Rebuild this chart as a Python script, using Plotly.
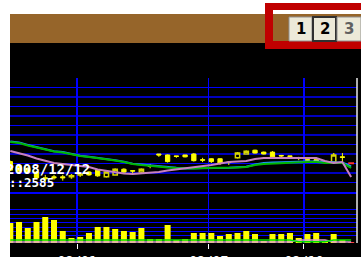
import plotly.graph_objects as go

# ---------------- data ----------------
bars = list(range(40))
tick_pos = [7.65, 22.7, 33.6]
tick_labels = ["09/01", "09/07", "09/10"]

open_ = [2582, 2578, 2575, 2571, 2565, 2566, 2566, 2566, 2568, 2571,
         2573, 2566, 2568, 2574, 2572.5, 2571, 2577.5, 2590, 2589, 2588,
         2589, 2590, 2584, 2585, 2585, 2581.5, 2586, 2590, 2594, 2592,
         2592, 2588.5, 2588, 2586, 2584, 2584, 2581.5, 2581.5, 2587, 2580.5]
high = [2583, 2579, 2576, 2572, 2568, 2568, 2568, 2569, 2570, 2572,
        2574, 2572, 2575, 2575, 2573, 2575, 2579.5, 2590, 2589.5, 2588,
        2589, 2591, 2586, 2585.5, 2585.5, 2582, 2592, 2594, 2594.5, 2592.5,
        2593, 2589, 2588, 2587, 2584, 2584, 2582.5, 2591, 2591, 2581]
low = [2572, 2571, 2570, 2564, 2560, 2563, 2562, 2564, 2566, 2567,
       2566, 2565, 2567, 2570, 2570, 2570, 2575, 2587, 2581, 2586,
       2586.5, 2582, 2581.5, 2580.5, 2578.5, 2578.5, 2585, 2589.5, 2590.5, 2589.5,
       2586.5, 2586, 2586, 2583.5, 2582, 2581, 2580, 2579.5, 2580.5, 2579.5]
close = [2573, 2572, 2571, 2565, 2564, 2565, 2565, 2567, 2569, 2568,
         2567, 2571, 2574, 2571, 2572, 2574, 2577, 2589, 2582, 2587.5,
         2587, 2583, 2583.5, 2582, 2580.5, 2581, 2591, 2593, 2591, 2590,
         2587, 2588, 2587.5, 2585.5, 2583.5, 2581.5, 2581, 2589, 2586.5, 2580]

ma_pink = [2593.2, 2591.1, 2588.4, 2585.3, 2582.6, 2580.5, 2579.5, 2578.4, 2577.4, 2576.3,
           2573.7, 2572.1, 2570.5, 2569.5, 2568.9, 2569.5, 2570.5, 2571.1, 2572.6, 2573.7,
           2575.3, 2576.3, 2577.4, 2578.4, 2580.0, 2581.6, 2582.1, 2582.6, 2584.7, 2585.8,
           2585.8, 2585.8, 2585.8, 2585.8, 2585.8, 2585.8, 2582.6, 2580.5, 2581.6, 2565.8]
ma_green = [2602.6, 2601.6, 2599.0, 2596.8, 2594.7, 2592.6, 2591.6, 2589.5, 2587.9, 2586.8,
            2585.8, 2584.7, 2583.2, 2581.6, 2579.5, 2578.4, 2577.4, 2576.3, 2575.8, 2575.3,
            2574.7, 2574.7, 2575.3, 2575.3, 2575.3, 2575.3, 2575.8, 2576.3, 2578.4, 2579.5,
            2580.0, 2580.5, 2581.1, 2581.1, 2581.6, 2581.6, 2580.5, 2580.5, 2580.5, 2575.3]
ma_blue = [2603.2, 2602.2, 2599.4, 2597.0, 2594.9, 2592.8, 2592.0, 2590.0, 2588.2, 2587.0,
           2586.0, 2584.9, 2583.4, 2581.8, 2579.8, 2578.9, 2577.9, 2576.6, 2576.0, 2575.4,
           2574.8, 2574.8, 2575.4, 2575.4, 2575.4, 2575.4, 2576.0, 2576.6, 2579.0, 2580.4,
           2581.0, 2581.5, 2581.8, 2581.8, 2582.2, 2582.2, 2581.5, 2581.2, 2581.0, 2577.0]

volume = [465, 488, 349, 488, 605, 535, 279, 116, 140, 233,
          372, 372, 326, 279, 256, 349, 93, 93, 419, 70,
          93, 233, 233, 233, 163, 209, 233, 279, 209, 47,
          209, 209, 233, 116, 209, 233, 47, 209, 70, 23]
vol_green = [70, 70, 70, 70, 70, 70, 70, 70, 70, 70,
             70, 70, 70, 70, 70, 70, 70, 70, 70, 70,
             70, 70, 70, 70, 70, 70, 70, 70, 70, 70,
             70, 70, 70, 30, 30, 30, 30, 70, 70, 70]
vol_pink = [25, 25, 25, 25, 25, 25, 25, 25, 25, 25,
            25, 25, 25, 25, 25, 25, 23, 23, 23, 23,
            25, 25, 25, 25, 25, 25, 25, 25, 25, 25,
            25, 25, 25, 70, 70, 70, 70, 25, 25, 25]
vol_colors = ["#FFFF00"] * 39 + ["#FF4040"]

date_text = "2008/12/12"
price_text = "::2585"
buttons = ["1", "2", "3"]

# ---------------- geometry helpers ----------------
W, H = 361, 257
def px(x):
    return x / W
def py(y):
    return 1 - y / H

XR = [-0.034, 39.67]

fig = go.Figure()

fig.add_trace(go.Scatter(x=bars, y=ma_blue, mode="lines",
                         line=dict(color="#2090FF", width=2), xaxis="x", yaxis="y"))
fig.add_trace(go.Scatter(x=bars, y=ma_green, mode="lines",
                         line=dict(color="#00B800", width=2), xaxis="x", yaxis="y"))
fig.add_trace(go.Scatter(x=bars, y=ma_pink, mode="lines",
                         line=dict(color="#C880C0", width=2), xaxis="x", yaxis="y"))

fig.add_trace(go.Candlestick(
    x=bars[:-1], open=open_[:-1], high=high[:-1], low=low[:-1], close=close[:-1],
    increasing=dict(line=dict(color="#D8D800", width=1.5), fillcolor="rgba(0,0,0,0)"),
    decreasing=dict(line=dict(color="#FFFF00", width=1), fillcolor="#FFFF00"),
    whiskerwidth=0, xaxis="x", yaxis="y"))
fig.add_trace(go.Candlestick(
    x=bars[-1:], open=open_[-1:], high=high[-1:], low=low[-1:], close=close[-1:],
    increasing=dict(line=dict(color="#FF3030", width=1.5), fillcolor="#FF3030"),
    decreasing=dict(line=dict(color="#FF3030", width=1.5), fillcolor="#FF3030"),
    xaxis="x", yaxis="y"))

fig.add_trace(go.Bar(x=bars, y=volume, marker=dict(color=vol_colors, line=dict(width=0)),
                     xaxis="x2", yaxis="y2"))
fig.add_trace(go.Scatter(x=bars, y=vol_pink, mode="lines",
                         line=dict(color="#D8A0D0", width=1.5), xaxis="x2", yaxis="y2"))
fig.add_trace(go.Scatter(x=bars, y=vol_green, mode="lines",
                         line=dict(color="#00E000", width=1.5), xaxis="x2", yaxis="y2"))

shapes = [
    dict(type="rect", xref="paper", yref="paper", x0=px(10), x1=1, y0=0, y1=py(43),
         fillcolor="black", line=dict(width=0), layer="below"),
    dict(type="rect", xref="paper", yref="paper", x0=px(10), x1=1, y0=py(43), y1=py(14),
         fillcolor="#96652A", line=dict(width=0), layer="below"),
    dict(type="rect", xref="paper", yref="paper", x0=px(265), x1=1, y0=py(49), y1=py(3),
         fillcolor="#C00000", line=dict(width=0), layer="above"),
    dict(type="rect", xref="paper", yref="paper", x0=px(273), x1=1, y0=py(14), y1=py(10),
         fillcolor="white", line=dict(width=0), layer="above"),
    dict(type="rect", xref="paper", yref="paper", x0=px(273), x1=1, y0=py(41), y1=py(14),
         fillcolor="#96652A", line=dict(width=0), layer="above"),
    dict(type="line", xref="paper", yref="paper", x0=px(357), x1=px(357), y0=py(243), y1=py(78),
         line=dict(color="#E8E8E8", width=1.5), layer="above"),
]
btn_x = [(289, 312), (313, 336), (337, 361)]
for i, (a, b) in enumerate(btn_x):
    pressed = (i == 1)
    shapes.append(dict(type="rect", xref="paper", yref="paper", x0=px(a), x1=px(b),
                       y0=py(41), y1=py(17), fillcolor="#ECE9D8",
                       line=dict(color="#303030" if pressed else "#909090",
                                 width=2 if pressed else 1), layer="above"))

annotations = [
    dict(text=date_text, x=px(3.5), y=py(169), xref="paper", yref="paper",
         xanchor="left", yanchor="middle", showarrow=False,
         font=dict(family="DejaVu Sans Mono", size=14, color="white", weight="bold")),
    dict(text=price_text, x=px(7), y=py(182.5), xref="paper", yref="paper",
         xanchor="left", yanchor="middle", showarrow=False,
         font=dict(family="DejaVu Sans Mono", size=12.5, color="white", weight="bold")),
]
for i, (a, b) in enumerate(btn_x):
    annotations.append(dict(text=buttons[i], x=px((a + b) / 2), y=py(29), xref="paper",
                            yref="paper", xanchor="center", yanchor="middle", showarrow=False,
                            font=dict(family="DejaVu Sans", size=15,
                                      color="#606060" if i == 2 else "black", weight="bold")))

fig.update_layout(
    width=W, height=H, margin=dict(l=0, r=0, t=0, b=0, autoexpand=False),
    paper_bgcolor="white", plot_bgcolor="rgba(0,0,0,0)",
    showlegend=False, hovermode=False, bargap=0.31,
    shapes=shapes, annotations=annotations,
    xaxis=dict(domain=[px(10), px(357)], range=XR, anchor="y", automargin=False,
               tickvals=tick_pos, showticklabels=False, ticks="",
               showgrid=True, gridcolor="#0000FF", gridwidth=1.5, zeroline=False,
               showline=True, linecolor="#0000FF", linewidth=2,
               rangeslider=dict(visible=False), fixedrange=True),
    yaxis=dict(domain=[py(192), py(78)], range=[2550, 2670], anchor="x", automargin=False,
               tick0=2560, dtick=20, showticklabels=False, ticks="",
               showgrid=True, gridcolor="#0000FF", gridwidth=1.5, zeroline=False,
               minor=dict(tick0=2550, dtick=10, showgrid=True, gridcolor="#0000C0",
                          gridwidth=1.5)),
    xaxis2=dict(domain=[px(10), px(357)], range=XR, anchor="y2", matches="x",
                automargin=False,
                tickvals=tick_pos, ticktext=tick_labels, ticks="outside", ticklen=5,
                tickcolor="white", tickwidth=1,
                tickfont=dict(family="DejaVu Sans Mono", size=13, color="white", weight="bold"),
                showgrid=True, gridcolor="#0000FF", gridwidth=1.5, zeroline=False,
                showline=False),
    yaxis2=dict(domain=[py(243), py(192)], range=[0, 1186], anchor="x2", automargin=False,
                tickvals=[170, 270, 370, 470, 570, 670, 770], showticklabels=False,
                ticks="", showgrid=True, gridcolor="#0000FF", gridwidth=1, zeroline=False),
)

fig.write_html("out.html", config={"displayModeBar": False, "staticPlot": True},
               post_script="document.body.style.margin='0px';document.body.style.overflow='hidden';")
